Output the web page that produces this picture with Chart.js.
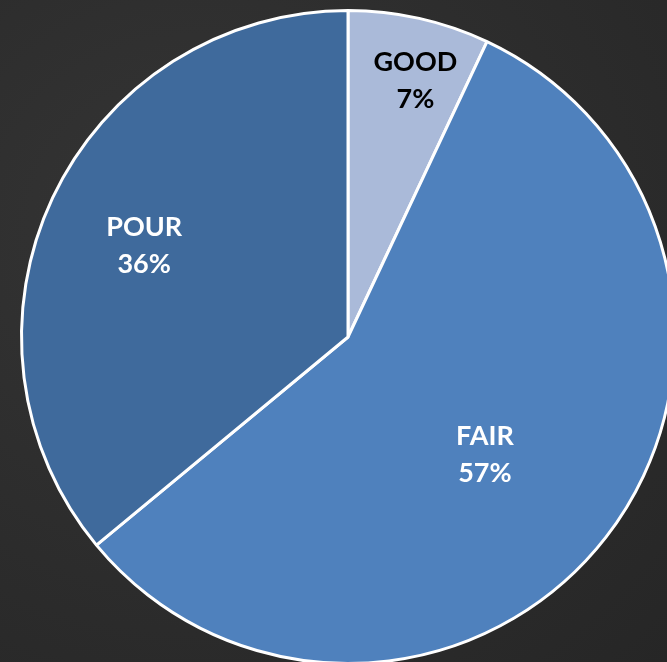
<!DOCTYPE html>
<html>
<head>
<meta charset="utf-8">
<script src="https://cdn.jsdelivr.net/npm/chart.js@4.4.0/dist/chart.umd.min.js"></script>
<style>
  html, body {
    margin: 0;
    padding: 0;
    width: 667px;
    height: 662px;
    overflow: hidden;
    background: radial-gradient(ellipse at 30% 35%, #353535 0%, #2e2e2e 45%, #262626 100%);
  }
  #wrap {
    position: absolute;
    left: -2px;
    top: -13px;
    width: 700px;
    height: 700px;
  }
</style>
</head>
<body>
<div id="wrap"><canvas id="pieChart" width="700" height="700"></canvas></div>
<script>
const categories = ["GOOD", "FAIR", "POUR"];
const percentages = [7, 57, 36];

const sliceColors = ["#aabad9", "#4f81bd", "#3f6a9c"];
const labelColors = ["#000000", "#ffffff", "#ffffff"];
// how far out from the centre each label sits (share of the radius), plus a small nudge
const labelDistance = [0.82, 0.55, 0.69];
const labelNudge = [[9, 5], [-5, 7], [0, 4]];

const sliceLabels = {
  id: "sliceLabels",
  afterDatasetsDraw(chart) {
    const { ctx } = chart;
    const arcs = chart.getDatasetMeta(0).data;
    ctx.save();
    ctx.font = "bold 27px Lato, 'Open Sans', sans-serif";
    ctx.textAlign = "center";
    ctx.textBaseline = "middle";
    arcs.forEach((arc, i) => {
      const mid = (arc.startAngle + arc.endAngle) / 2;
      const r = arc.outerRadius * labelDistance[i];
      const x = arc.x + Math.cos(mid) * r + labelNudge[i][0];
      const y = arc.y + Math.sin(mid) * r + labelNudge[i][1];
      ctx.fillStyle = labelColors[i];
      ctx.fillText(categories[i], x, y - 18);
      ctx.fillText(percentages[i] + "%", x, y + 19);
    });
    ctx.restore();
  }
};

new Chart(document.getElementById("pieChart").getContext("2d"), {
  type: "pie",
  data: {
    labels: categories,
    datasets: [{
      data: percentages,
      backgroundColor: sliceColors,
      borderColor: "#ffffff",
      borderWidth: 3
    }]
  },
  options: {
    responsive: false,
    animation: false,
    layout: { padding: 22 },
    plugins: {
      legend: { display: false },
      tooltip: { enabled: false }
    }
  },
  plugins: [sliceLabels]
});
</script>
</body>
</html>
